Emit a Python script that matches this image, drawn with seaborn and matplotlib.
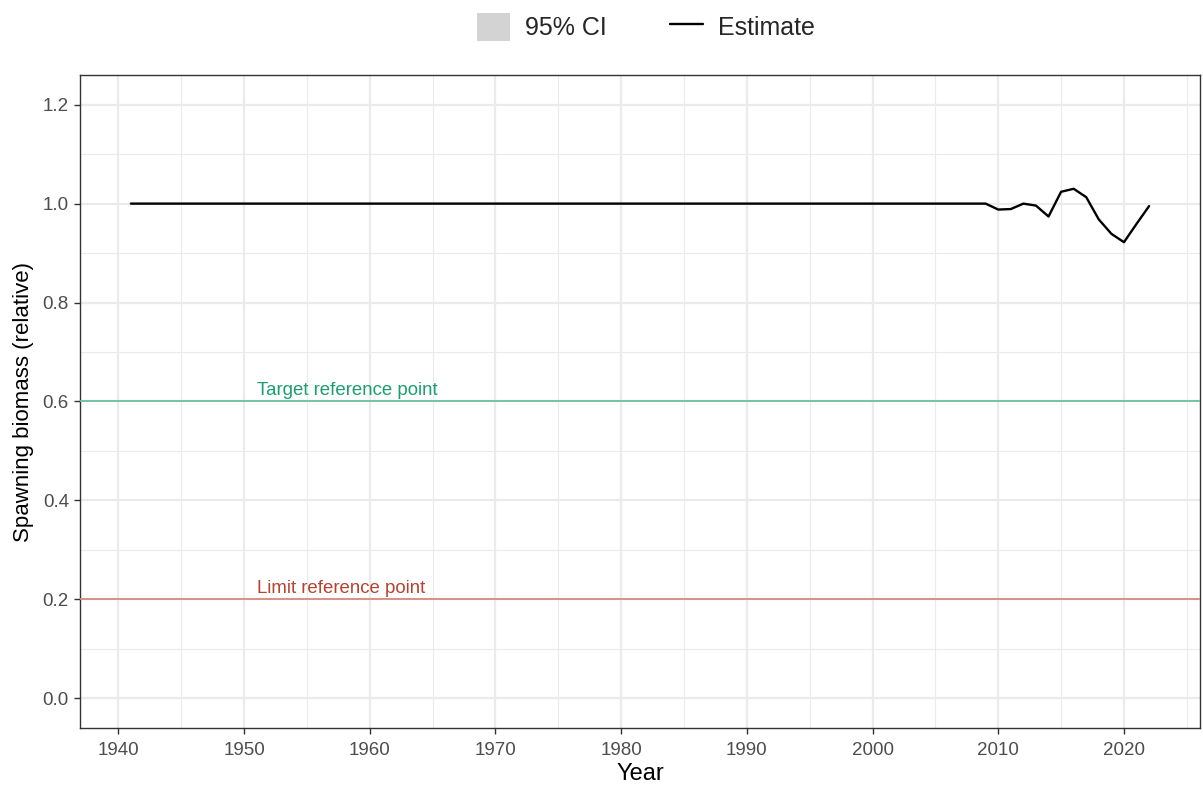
import pandas as pd
import matplotlib
matplotlib.use("Agg")
import matplotlib.pyplot as plt
from matplotlib.patches import Patch
from matplotlib.lines import Line2D
import seaborn as sns

# Data
years = list(range(1941, 2023))
estimate = [1.0] * 69 + [
    0.988, 0.989, 1.000, 0.996, 0.974, 1.024, 1.030, 1.013,
    0.968, 0.939, 0.922, 0.959, 0.995,
]
ref_values = [0.6, 0.2]
ref_labels = ["Target reference point", "Limit reference point"]
ref_text_colors = ["#1B9E6E", "#B5432F"]
ref_line_colors = ["#6BBF9B", "#D58A7E"]

df = pd.DataFrame({"Year": years, "Estimate": estimate})

sns.set_theme(style="whitegrid")
plt.rcParams["font.family"] = ["Liberation Sans", "DejaVu Sans"]

fig = plt.figure(figsize=(12.03, 7.89), dpi=100)
ax = fig.add_axes([80 / 1203, 61 / 789, 1120 / 1203, 653 / 789])

sns.lineplot(data=df, x="Year", y="Estimate", color="black", linewidth=1.7, ax=ax, zorder=4)

for val, lab, tc, lc in zip(ref_values, ref_labels, ref_text_colors, ref_line_colors):
    ax.axhline(val, color=lc, linewidth=1.3, zorder=3)
    ax.text(1951, val + 0.005, lab, color=tc, fontsize=13.4, ha="left", va="bottom", zorder=5)

ax.set_xlim(1936.95, 2026.05)
ax.set_ylim(-0.06, 1.26)
ax.set_xticks(range(1940, 2021, 10))
ax.set_xticks(range(1945, 2026, 10), minor=True)
ax.set_yticks([0.0, 0.2, 0.4, 0.6, 0.8, 1.0, 1.2])
ax.set_yticks([0.1, 0.3, 0.5, 0.7, 0.9, 1.1], minor=True)
ax.set_yticklabels(["0.0", "0.2", "0.4", "0.6", "0.8", "1.0", "1.2"])

ax.grid(which="major", color="#EBEBEB", linewidth=1.6)
ax.grid(which="minor", color="#EBEBEB", linewidth=0.8)
ax.set_facecolor("white")
for s in ax.spines.values():
    s.set_color("#333333")
    s.set_linewidth(1.0)

ax.tick_params(axis="both", which="major", length=4, width=1, color="#333333",
               labelcolor="#4D4D4D", labelsize=13.5, pad=4)
ax.tick_params(which="minor", length=0)
ax.tick_params(axis="x", bottom=True, pad=6)
ax.tick_params(axis="y", left=True)

ax.set_xlabel("Year", fontsize=17, color="black", labelpad=3)
ax.set_ylabel("Spawning biomass (relative)", fontsize=16, color="black", labelpad=6)

handles = [
    Patch(facecolor="#D3D3D3", edgecolor="none", label="95% CI"),
    Line2D([0], [0], color="black", linewidth=1.7, label="Estimate"),
]
fig.legend(handles=handles, loc="upper center", bbox_to_anchor=(0.537, 1.012), ncol=2,
           frameon=False, fontsize=18, handlelength=1.35, handleheight=1.35,
           columnspacing=2.5, handletextpad=0.6)

fig.savefig("out.png", dpi=100)
